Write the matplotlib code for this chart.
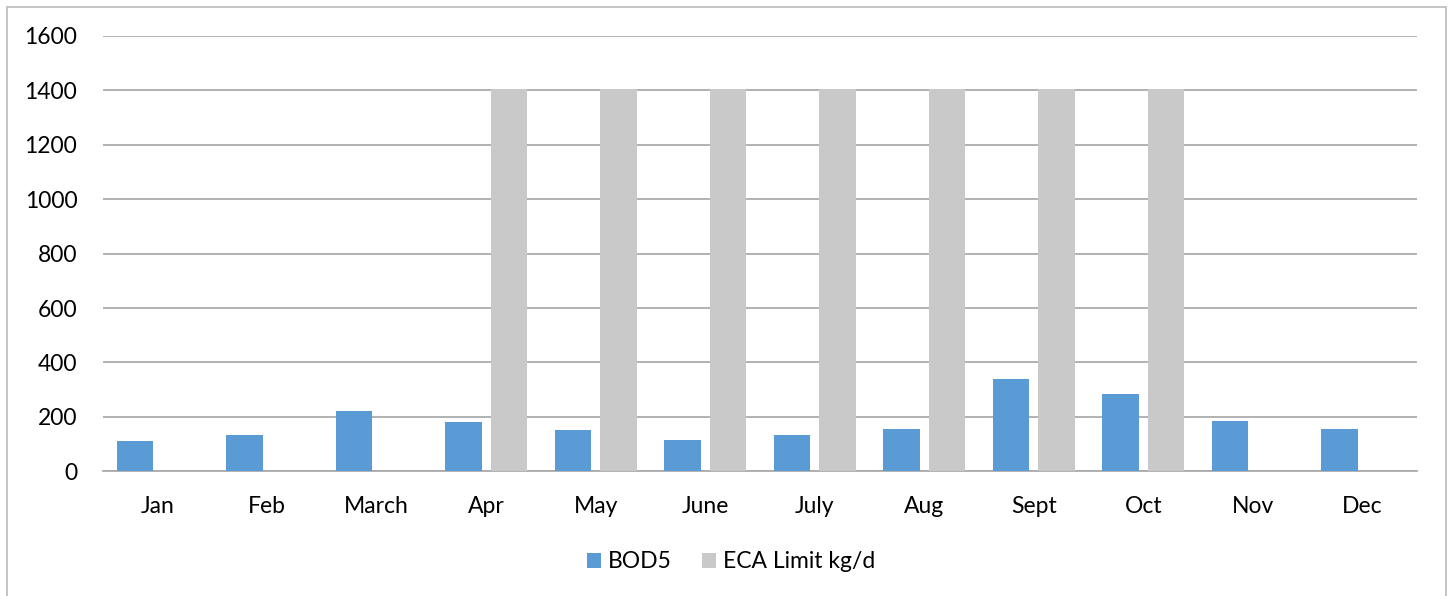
import numpy as np
import matplotlib
matplotlib.use('Agg')
import matplotlib.pyplot as plt
from matplotlib.patches import Rectangle

months = ['Jan', 'Feb', 'March', 'Apr', 'May', 'June', 'July', 'Aug', 'Sept', 'Oct', 'Nov', 'Dec']
bod5 = [111, 134, 223, 181, 150, 115, 135, 155, 339, 283, 184, 155]
eca_limit = [0, 0, 0, 1405, 1405, 1405, 1405, 1405, 1405, 1405, 0, 0]
y_ticks = [0, 200, 400, 600, 800, 1000, 1200, 1400, 1600]

plt.rcParams['font.family'] = ['Lato', 'DejaVu Sans']

fig = plt.figure(figsize=(14.5, 5.96), dpi=100)
ax = fig.add_axes([103 / 1450, 1 - 471.3 / 596, 1314 / 1450, 435.3 / 596])

x = np.arange(len(months))
w = 0.334
ax.bar(x - 0.208, bod5, width=w, color='#5B9BD5', label='BOD5', zorder=3)
ax.bar(x + 0.208, eca_limit, width=w, color='#C9C9C9', label='ECA Limit kg/d', zorder=3)

ax.set_xlim(-0.5, len(months) - 0.5)
ax.set_ylim(0, 1600)
ax.set_yticks(y_ticks)
ax.set_xticks(x)
ax.set_xticklabels(months)
ax.tick_params(axis='both', length=0, labelsize=16.5, colors='black')
ax.tick_params(axis='y', pad=18.5)
ax.tick_params(axis='x', pad=18)

ax.grid(axis='y', color='#ABABAB', linewidth=1.3, zorder=0)
for s in ['top', 'right', 'left']:
    ax.spines[s].set_visible(False)
ax.spines['bottom'].set_color('#ABABAB')
ax.spines['bottom'].set_linewidth(1.3)

fig.legend(loc='center', bbox_to_anchor=(731 / 1450, 1 - 562 / 596), ncol=2, frameon=False,
           fontsize=16.5, handlelength=0.62, handleheight=0.62, handletextpad=0.3,
           columnspacing=1.3)

# chart border
fig.patches.append(Rectangle((7 / 1450, -0.05), 1439 / 1450, 1.05 - 7 / 596,
                             transform=fig.transFigure, fill=False,
                             edgecolor='#BFBFBF', linewidth=1.3))

fig.savefig('out.png', dpi=100)
